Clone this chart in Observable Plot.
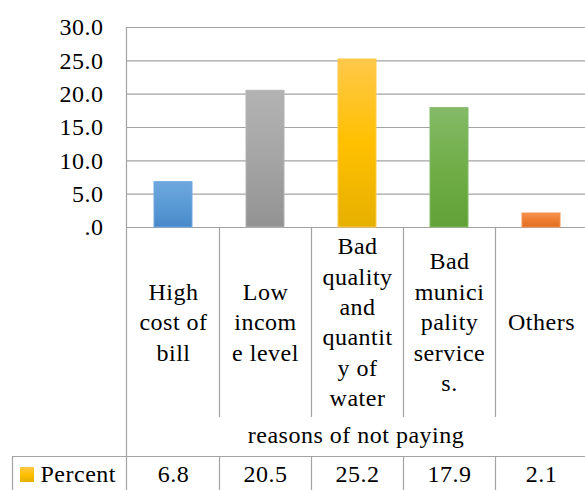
<!DOCTYPE html>
<html><head><meta charset="utf-8">
<script src="https://cdn.jsdelivr.net/npm/d3@7"></script>
<script src="https://cdn.jsdelivr.net/npm/@observablehq/plot@0.6"></script>
<style>
html,body{margin:0;padding:0;background:#fff;overflow:hidden;}
</style>
</head><body><div id="chart"></div>
<script>
const categories = ["High cost of bill","Low income level","Bad quality and quantity of water","Bad municipality services.","Others"];
const wrappedLabels = ["High\ncost of\nbill","Low\nincom\ne level","Bad\nquality\nand\nquantit\ny of\nwater","Bad\nmunici\npality\nservice\ns.","Others"];
const percent = [6.8,20.5,25.2,17.9,2.1];
const yTicks = [0,5,10,15,20,25,30];
const seriesName = "Percent";
const axisTitle = "reasons of not paying";
const barTop = ["#6ea7df","#b3b3b3","#ffc84a","#84ba68","#f59250"];
const barMid = ["#5b9bd5","#a5a5a5","#ffc000","#70ad47","#ed7d31"];
const barBottom = ["#4889ca","#929292","#e6b000","#61a137","#e06f22"];

const FONT = "Liberation Serif";
const LINE = "#a3a3a3";

const rows = categories.map((c,i)=>({category:c, label:wrappedLabels[i], value:percent[i], fill:`url(#grad${i})`, stroke:barTop[i]}));

const plot = Plot.plot({
  width: 585, height: 490,
  marginTop: 27, marginBottom: 263, marginLeft: 126, marginRight: 0,
  style: {fontFamily: FONT, fontSize: "24px", color: "#000", background: "#fff", letterSpacing: "0.5px"},
  x: {domain: categories, range: [126, 587], padding: 0, axis: null},
  y: {domain: [0, 30], axis: null},
  color: {type: "identity"},
  marks: [
    Plot.ruleY(yTicks, {stroke: LINE, strokeWidth: 1.2}),
    Plot.barY(rows, {x: "category", y: "value", fill: "fill", stroke: "stroke", strokeWidth: 1, insetLeft: 27, insetRight: 27}),
    Plot.axisY(yTicks, {tickSize: 0, tickPadding: 23, tickFormat: d => d === 0 ? ".0" : d.toFixed(1), fontSize: 24, fontFamily: FONT, label: null}),
    Plot.text(rows, {x: "category", text: "label", frameAnchor: "bottom", dy: 93, lineAnchor: "middle", lineHeight: 1.27, fontSize: 24, fontFamily: FONT}),
    Plot.text([axisTitle], {frameAnchor: "bottom", dy: 215, fontSize: 24, fontFamily: FONT}),
    Plot.text(rows, {x: "category", text: d => d.value.toFixed(1), frameAnchor: "bottom", dy: 254, fontSize: 24, fontFamily: FONT}),
    Plot.text([seriesName], {frameAnchor: "bottom-left", dx: -86, dy: 254, textAnchor: "start", fontSize: 24, fontFamily: FONT})
  ]
});

const svg = d3.select(plot);

// gradients
const defs = svg.insert("defs", ":first-child");
categories.forEach((c, i) => {
  const g = defs.append("linearGradient").attr("id", `grad${i}`).attr("x1", 0).attr("y1", 0).attr("x2", 0).attr("y2", 1);
  g.append("stop").attr("offset", "0%").attr("stop-color", barTop[i]);
  g.append("stop").attr("offset", "50%").attr("stop-color", barMid[i]);
  g.append("stop").attr("offset", "100%").attr("stop-color", barBottom[i]);
});

// table grid lines
const xs = plot.scale("x");
const crisp = v => Math.round(v) + 0.5;
const grid = svg.append("g").attr("stroke", LINE).attr("stroke-width", 1.2).attr("fill", "none");
const seg = (x1, y1, x2, y2) => grid.append("line").attr("x1", x1).attr("y1", y1).attr("x2", x2).attr("y2", y2);
const left = crisp(xs.range[0]);
seg(left, 27, left, 490);
categories.slice(1).forEach(c => {
  const x = crisp(xs.apply(c));
  seg(x, 227, x, 417);
  seg(x, 456, x, 490);
});
seg(12, 456.5, 585, 456.5);
seg(12.5, 456, 12.5, 490);
svg.append("rect").attr("x", 20).attr("y", 467).attr("width", 14).attr("height", 15).attr("fill", "url(#grad2)");

document.getElementById("chart").appendChild(plot);
</script>
</body></html>
